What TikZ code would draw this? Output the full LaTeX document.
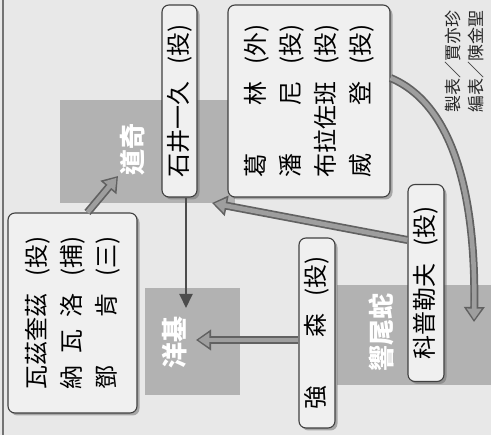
\documentclass[tikz,border=0pt]{standalone}
\usepackage{fontspec}
\newfontfamily\cjk{Noto Sans CJK TC}
\usetikzlibrary{arrows.meta,shadows}
\newcommand\nm[2]{\makebox[4em]{#1}\hspace{0.7em}(#2)}
\newcommand\garr[2]{%
  \draw[line width=8pt, black!62, -{Triangle[length=15pt,width=20pt]}] #1 -- #2;
  \draw[line width=4.6pt, black!38, shorten >=2.4pt, -{Triangle[length=11pt,width=14pt]}] #1 -- #2;}
\tikzset{
  namebox/.style={draw=black!75, line width=1.1pt, fill=white!94!black,
    rounded corners=7pt, rotate=90, inner sep=0pt,
    drop shadow={shadow xshift=2.5pt, shadow yshift=-2.5pt, fill=black!55, opacity=.55},
    font=\cjk\fontsize{24}{35}\selectfont, align=left},
  team/.style={fill=black!30, draw=none},
  teamlabel/.style={rotate=90, text=white, font=\cjk\bfseries\fontsize{26}{28}\selectfont, inner sep=0pt},
  credit/.style={rotate=90, text=black!85, font=\cjk\fontsize{17}{19}\selectfont, inner sep=0pt}
}
\begin{document}
\begin{tikzpicture}[x=1pt,y=-1pt]
\useasboundingbox (0,0) rectangle (491,435);
\fill[black!9] (0,0) rectangle (491,435);
\draw[black!55, line width=2pt] (3,0) -- (3,435);
% team blocks
\fill[team] (60,100) rectangle (235,203);
\fill[team] (145,288) rectangle (240,395);
\fill[team] (337,285) rectangle (491,385);
\node[teamlabel] (dodgers) at (133,150) {道奇};
\node[teamlabel] (yankees) at (175,343) {洋基};
\node[teamlabel] (dbacks) at (381,333) {響尾蛇};
% boxes
\node[namebox, minimum width=200pt, minimum height=129pt] (L) at (72.5,313)
  {\nm{瓦茲奎茲}{投}\\\nm{納\hfill{}瓦\hfill{}洛}{捕}\\\nm{鄧\hfill{}肯}{三}};
\node[namebox, minimum width=192pt, minimum height=35pt] (S) at (179.5,101)
  {\nm{石井一久}{投}};
\node[namebox, minimum width=192pt, minimum height=162pt] (B) at (309,101)
  {\nm{葛\hfill{}林}{外}\\\nm{潘\hfill{}尼}{投}\\\nm{布拉佐班}{投}\\\nm{威\hfill{}登}{投}};
\node[namebox, minimum width=190pt, minimum height=36pt] (J) at (317,333)
  {\nm{強\hfill{}森}{投}};
\node[namebox, minimum width=197pt, minimum height=36pt] (K) at (426,283)
  {\nm{科普勒夫}{投}};
% credits
\node[credit] (c1) at (453,62) {製表／賈亦珍};
\node[credit] (c2) at (476,62) {編表／陳金聖};
% connectors
\coordinate (atip) at (118,176);
\coordinate (ytip) at (186,308);
\coordinate (ctip) at (212,203);
\coordinate (jtip) at (196,340);
\coordinate (etip) at (474,322);
\garr{([xshift=15pt]L.east)}{(atip)}
\draw[black!70, line width=2pt, -{Triangle[length=14pt,width=13pt]}] (S.west -| ytip) -- (ytip);
\garr{([yshift=43pt]K.north)}{(ctip)}
\garr{([yshift=-7pt]J.north)}{(jtip)}
\draw[line width=8pt, black!62, -{Triangle[length=15pt,width=20pt]}] ([yshift=23pt]B.south) .. controls (455,105) and (476,200) .. (etip);
\draw[line width=4.6pt, black!38, shorten >=2.4pt, -{Triangle[length=11pt,width=14pt]}] ([yshift=23pt]B.south) .. controls (455,105) and (476,200) .. (etip);
\end{tikzpicture}
\end{document}
